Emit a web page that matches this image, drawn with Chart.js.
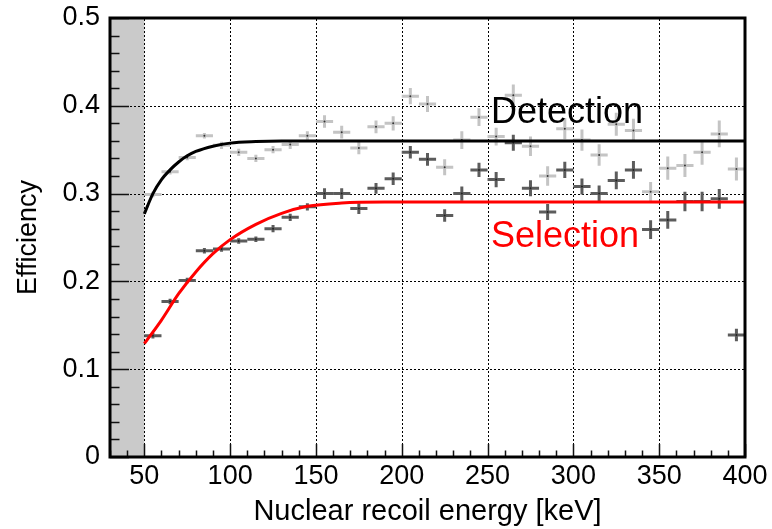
<!DOCTYPE html>
<html><head><meta charset="utf-8">
<script src="https://cdn.jsdelivr.net/npm/chart.js@4.4.1/dist/chart.umd.min.js"></script>
<style>html,body{margin:0;padding:0;background:#fff;}canvas{display:block;}</style>
</head><body>
<canvas id="c" width="772" height="529"></canvas>
<script>
// ---- data ----
const energies = [55,65,75,85,95,105,115,125,135,145,155,165,175,185,195,205,215,225,235,245,255,265,275,285,295,305,315,325,335,345,355,365,375,385,395];
const binHalfWidth = 5;
const detectionEff = [0.299,0.325,0.341,0.366,0.355,0.347,0.340,0.350,0.356,0.366,0.382,0.370,0.352,0.376,0.380,0.411,0.402,0.330,0.361,0.387,0.365,0.412,0.354,0.320,0.374,0.361,0.344,0.379,0.372,0.302,0.329,0.332,0.347,0.368,0.328];
const detectionErr = [0.002,0.002,0.002,0.002,0.003,0.003,0.003,0.003,0.004,0.004,0.006,0.006,0.006,0.006,0.007,0.008,0.008,0.008,0.009,0.009,0.009,0.011,0.010,0.010,0.011,0.011,0.011,0.012,0.012,0.010,0.012,0.012,0.013,0.014,0.012];
const selectionEff = [0.138,0.177,0.201,0.235,0.237,0.246,0.248,0.260,0.273,0.285,0.300,0.300,0.283,0.306,0.317,0.347,0.339,0.275,0.300,0.327,0.316,0.358,0.306,0.279,0.327,0.308,0.300,0.315,0.327,0.259,0.270,0.291,0.291,0.294,0.139];
const selectionErr = [0.002,0.002,0.002,0.002,0.002,0.002,0.002,0.003,0.003,0.003,0.005,0.005,0.005,0.005,0.006,0.006,0.006,0.006,0.007,0.007,0.0075,0.008,0.008,0.008,0.008,0.008,0.008,0.009,0.009,0.0095,0.009,0.010,0.010,0.010,0.006];
const detectionCurveE = [50,55,60,65,70,75,80,90,100,115,130,400];
const detectionCurveV = [0.277,0.300,0.316,0.327,0.336,0.343,0.348,0.354,0.3575,0.3592,0.3598,0.360];
const selectionCurveE = [50,60,70,80,90,100,115,130,145,165,190,400];
const selectionCurveV = [0.129,0.156,0.186,0.2108,0.2316,0.2476,0.265,0.2775,0.2855,0.2893,0.2903,0.2905];
const xTickValues = [50,100,150,200,250,300,350,400];
const yTickValues = [0,0.1,0.2,0.3,0.4,0.5];
const thresholdRange = [30,50];
const curveLabels = ['Detection','Selection'];
const curveLabelAnchor = [[252,0.3805],[252,0.2392]];

const toXY = (xs, ys) => xs.map((x,i)=>({x:x, y:ys[i]}));

const LIGHT = '#c4c4c4', DARK = '#5c5c5c';
const FONT = '"Liberation Sans", Arial, sans-serif';

const plotPlugin = {
  id: 'rootStyle',
  beforeDraw(chart) {
    const {ctx, chartArea:a, scales:{x}} = chart;
    ctx.save();
    ctx.fillStyle = '#cacaca';
    const x0 = x.getPixelForValue(thresholdRange[0]), x1 = x.getPixelForValue(thresholdRange[1]);
    ctx.fillRect(x0, a.top, x1 - x0, a.bottom - a.top);
    ctx.restore();
  },
  beforeDatasetsDraw(chart) {
    const {ctx, chartArea:a, scales:{x,y}} = chart;
    ctx.save();
    // dotted grid at major ticks (not on the frame)
    ctx.strokeStyle = '#000'; ctx.lineWidth = 1; ctx.setLineDash([2,2]);
    ctx.beginPath();
    x.ticks.forEach(t => {
      if (t.value <= x.min || t.value >= x.max) return;
      const px = Math.round(x.getPixelForValue(t.value)) + 0.5;
      ctx.moveTo(px, a.bottom); ctx.lineTo(px, a.top);
    });
    y.ticks.forEach(t => {
      if (t.value <= y.min + 1e-9 || t.value >= y.max - 1e-9) return;
      const py = Math.round(y.getPixelForValue(t.value)) + 0.5;
      ctx.moveTo(a.left, py); ctx.lineTo(a.right, py);
    });
    ctx.stroke();
    ctx.setLineDash([]);
    const drawBars = (vals, errs, color) => {
      ctx.strokeStyle = color; ctx.lineWidth = 3; ctx.lineCap = 'butt';
      energies.forEach((e,i) => {
        const px = x.getPixelForValue(e), py = y.getPixelForValue(vals[i]);
        const xl = x.getPixelForValue(e - binHalfWidth), xr = x.getPixelForValue(e + binHalfWidth);
        const yt = y.getPixelForValue(vals[i] + errs[i]), yb = y.getPixelForValue(vals[i] - errs[i]);
        ctx.beginPath();
        ctx.moveTo(xl, py); ctx.lineTo(xr, py);
        ctx.moveTo(px, yt - 1); ctx.lineTo(px, yb + 1);
        ctx.stroke();
      });
    };
    drawBars(detectionEff, detectionErr, LIGHT);
    drawBars(selectionEff, selectionErr, DARK);
    ctx.restore();
  },
  afterDraw(chart) {
    const {ctx, chartArea:a, scales:{x,y}} = chart;
    ctx.save();
    // inward ticks
    ctx.strokeStyle = '#111'; ctx.lineWidth = 1.5;
    ctx.beginPath();
    for (let v = 30; v <= 400; v += 10) {
      const px = Math.round(x.getPixelForValue(v)) + 0.5;
      const len = (v % 50 === 0) ? 13 : 6.5;
      ctx.moveTo(px, a.bottom); ctx.lineTo(px, a.bottom - len);
    }
    for (let k = 0; k <= 25; k++) {
      const v = k * 0.02;
      const py = Math.round(y.getPixelForValue(v)) + 0.5;
      const len = (k % 5 === 0) ? 19 : 9.5;
      ctx.moveTo(a.left, py); ctx.lineTo(a.left + len, py);
    }
    ctx.stroke();
    // frame
    ctx.strokeStyle = '#000'; ctx.lineWidth = 3;
    ctx.strokeRect(a.left, a.top, a.right - a.left, a.bottom - a.top);
    // curve labels
    ctx.font = '36px ' + FONT;
    ctx.textBaseline = 'alphabetic'; ctx.textAlign = 'left';
    const cols = ['#000000', '#ff0000'];
    curveLabels.forEach((t,i) => {
      ctx.fillStyle = cols[i];
      ctx.fillText(t, x.getPixelForValue(curveLabelAnchor[i][0]), y.getPixelForValue(curveLabelAnchor[i][1]));
    });
    ctx.restore();
  }
};

const noPad = s => { s.paddingTop = 0; s.paddingBottom = 0; s.paddingLeft = 0; s.paddingRight = 0; };

new Chart(document.getElementById('c'), {
  type: 'scatter',
  data: {
    datasets: [
      { type:'line', label:'Detection fit', data: toXY(detectionCurveE, detectionCurveV), borderColor:'#000', borderWidth:3, pointRadius:0, fill:false, cubicInterpolationMode:'monotone' },
      { type:'line', label:'Selection fit', data: toXY(selectionCurveE, selectionCurveV), borderColor:'#ff0000', borderWidth:3, pointRadius:0, fill:false, cubicInterpolationMode:'monotone' },
      { label:'Selection', data: toXY(energies, selectionEff), pointRadius:1, pointBackgroundColor:'#222', pointBorderWidth:0 },
      { label:'Detection', data: toXY(energies, detectionEff), pointRadius:1, pointBackgroundColor:'#333', pointBorderWidth:0 }
    ]
  },
  options: {
    responsive: false,
    animation: false,
    devicePixelRatio: 1,
    layout: { padding: { top: 18, right: 27, bottom: 0, left: 0 } },
    plugins: { legend: { display:false }, tooltip: { enabled:false } },
    scales: {
      x: {
        type:'linear', min: 30, max: 400,
        afterBuildTicks: s => { s.ticks = xTickValues.map(v => ({value:v})); },
        afterFit: s => { s.height = 72; noPad(s); },
        ticks: { color:'#000', font:{ family:FONT, size:27 }, padding: 3, maxRotation:0, autoSkip:false,
                 callback: v => String(v) },
        grid: { display:false, drawTicks:false },
        border: { display:false },
        title: { display:true, text:'Nuclear recoil energy [keV]', color:'#000', font:{ family:FONT, size:29 }, padding:{top:0,bottom:0} }
      },
      y: {
        type:'linear', min: 0, max: 0.5,
        afterBuildTicks: s => { s.ticks = yTickValues.map(v => ({value:v})); },
        afterFit: s => { s.width = 110; noPad(s); },
        ticks: { color:'#000', font:{ family:FONT, size:27 }, padding: 10, autoSkip:false,
                 callback: v => (Math.abs(v) < 1e-9 ? '0' : Number(v).toFixed(1)) },
        grid: { display:false, drawTicks:false },
        border: { display:false },
        title: { display:true, text:'Efficiency', color:'#000', font:{ family:FONT, size:27 }, padding:{top:12,bottom:0} }
      }
    }
  },
  plugins: [plotPlugin]
});
</script>
</body></html>
